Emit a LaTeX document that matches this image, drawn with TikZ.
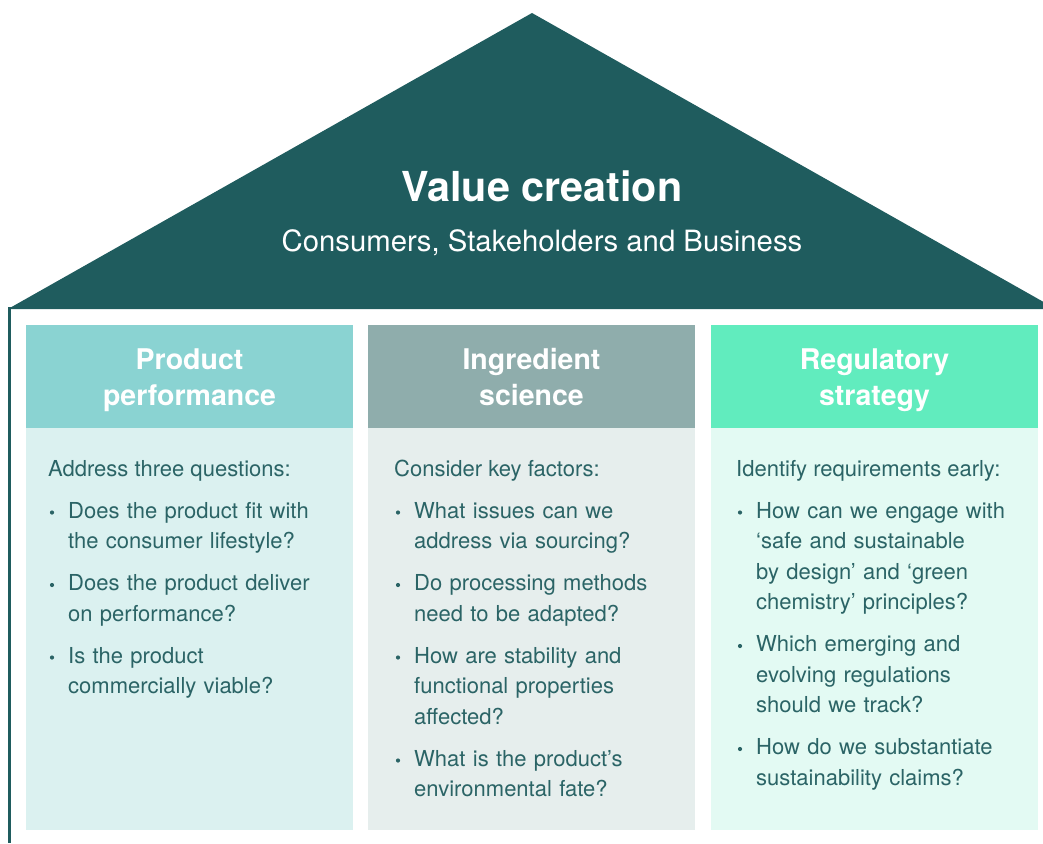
\documentclass[tikz,border=0pt]{standalone}
\usepackage{fontspec}
\setmainfont{TeX Gyre Heros}
\definecolor{roofc}{HTML}{1F5C5E}
\definecolor{txtc}{HTML}{2B6466}
\definecolor{hA}{HTML}{8AD3D2}
\definecolor{bA}{HTML}{DBF1F0}
\definecolor{hB}{HTML}{8FADAC}
\definecolor{bB}{HTML}{E6EEED}
\definecolor{hC}{HTML}{61ECBE}
\definecolor{bC}{HTML}{E3FAF3}
\tikzset{
  colbox/.style={draw=none, inner sep=0pt, minimum width=327pt},
  hdrtext/.style={anchor=base, text width=320pt, align=center, text=white,
    font=\fontsize{28.5}{35.5}\selectfont\bfseries},
  leadtext/.style={anchor=base west, inner sep=0pt, text=txtc,
    font=\fontsize{22}{30.5}\selectfont},
  itemtext/.style={anchor=base west, inner sep=0pt, text width=290pt, align=left, text=txtc,
    font=\fontsize{22}{30.5}\selectfont},
  bul/.style={fill=txtc}
}
\newcommand{\bitem}[4]{% name, text origin x, first baseline, text
  \fill[bul] (#2+26,#3-5.5) circle (2.1pt);
  \node[itemtext] (#1) at (#2+42,#3) {#4};
}
\begin{document}
\begin{tikzpicture}[x=1pt,y=-1pt]
\useasboundingbox (0,0) rectangle (1043,843);
\clip (0,0) rectangle (1043,843);
% roof and wall
\fill[roofc] (8,309) -- (532,13) -- (1056,309) -- cycle;
\fill[roofc] (8,307) rectangle (11,843);
\node[anchor=base, text=white, font=\fontsize{41.3}{45}\selectfont\bfseries] (title) at (542,201) {Value creation};
\node[anchor=base, text=white, font=\fontsize{29.3}{32}\selectfont] (subtitle) at (542,251) {Consumers, Stakeholders and Business};
% columns
\node[colbox, fill=hA, minimum height=103pt] (hA) at (189.5,376.5) {};
\node[colbox, fill=bA, minimum height=402pt] (bA) at (189.5,629) {};
\node[colbox, fill=hB, minimum height=103pt] (hB) at (531.5,376.5) {};
\node[colbox, fill=bB, minimum height=402pt] (bB) at (531.5,629) {};
\node[colbox, fill=hC, minimum height=103pt] (hC) at (874.5,376.5) {};
\node[colbox, fill=bC, minimum height=402pt] (bC) at (874.5,629) {};
% headers
\node[hdrtext] (tA) at (189.5,369.5) {Product\\performance};
\node[hdrtext] (tB) at (531.5,369.5) {Ingredient\\science};
\node[hdrtext] (tC) at (874.5,369.5) {Regulatory\\strategy};
% column 1
\node[leadtext] (lA) at (48,476) {Address three questions:};
\bitem{a1}{26}{518}{Does the product fit with\\the consumer lifestyle?}
\bitem{a2}{26}{590.5}{Does the product deliver\\on performance?}
\bitem{a3}{26}{663}{Is the product\\commercially viable?}
% column 2
\node[leadtext] (lB) at (394,476) {Consider key factors:};
\bitem{b1}{372}{518}{What issues can we\\address via sourcing?}
\bitem{b2}{372}{590.5}{Do processing methods\\need to be adapted?}
\bitem{b3}{372}{663}{How are stability and\\functional properties\\affected?}
\bitem{b4}{372}{766}{What is the product’s\\environmental fate?}
% column 3
\node[leadtext] (lC) at (736,476) {Identify requirements early:};
\bitem{c1}{714}{518}{How can we engage with\\‘safe and sustainable\\by design’ and ‘green\\chemistry’ principles?}
\bitem{c2}{714}{651.5}{Which emerging and\\evolving regulations\\should we track?}
\bitem{c3}{714}{754.5}{How do we substantiate\\sustainability claims?}
\end{tikzpicture}
\end{document}
